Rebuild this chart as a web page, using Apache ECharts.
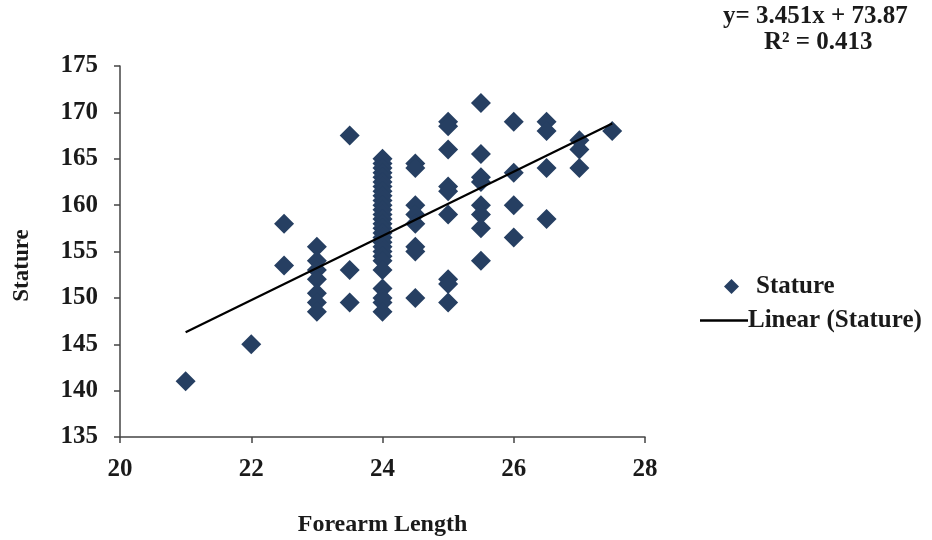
<!DOCTYPE html>
<html>
<head>
<meta charset="utf-8">
<title>Stature vs Forearm Length</title>
<script src="https://cdn.jsdelivr.net/npm/echarts@6/dist/echarts.min.js"></script>
<style>
  html, body { margin: 0; padding: 0; background: #fff; }
  #chart { width: 932px; height: 540px; }
</style>
</head>
<body>
<div id="chart"></div>
<script>
  // forearm length (cm) columns and the stature values measured in each
  var FOREARM = [21, 22, 22.5, 23, 23.5, 24, 24.5, 25, 25.5, 26, 26.5, 27, 27.5];
  var STATURE = [
    [141],
    [145],
    [158, 153.5],
    [155.5, 154, 153, 152, 150.5, 149.5, 148.5],
    [167.5, 153, 149.5],
    [165, 164.5, 164, 163.5, 163, 162.5, 162, 161.5, 161, 160.5, 160, 159.5, 159,
     158.5, 158, 157.5, 157, 156.5, 156, 155.5, 155, 154.5, 154, 153, 151, 150, 149.5, 148.5],
    [164.5, 164, 160, 159, 158, 155.5, 155, 150],
    [169, 168.5, 166, 162, 161.5, 159, 152, 151.5, 149.5],
    [171, 165.5, 163, 162.5, 160, 159, 157.5, 154],
    [169, 163.5, 160, 156.5],
    [169, 168, 164, 158.5],
    [167, 166, 164],
    [168]
  ];
  // linear trend endpoints (y = 3.451x + 73.87)
  var TREND_X = [21, 27.5];
  var TREND_Y = [146.3, 168.8];
  var X_TICKS = [20, 22, 24, 26, 28];
  var Y_TICKS = [135, 140, 145, 150, 155, 160, 165, 170, 175];

  var FONT = '"Liberation Serif", "DejaVu Serif", serif';
  var INK = '#1a1a1a';
  var MARK = '#263f62';

  var points = [];
  FOREARM.forEach(function (x, i) {
    STATURE[i].forEach(function (y) { points.push([x, y]); });
  });
  var trend = TREND_X.map(function (x, i) { return [x, TREND_Y[i]]; });

  var axisLine = { lineStyle: { color: '#444', width: 1.5 } };
  var axisTick = { show: true, length: 6, lineStyle: { color: '#444', width: 1.5 } };
  function txt(size) {
    return { color: INK, fontFamily: FONT, fontWeight: 'bold', fontSize: size };
  }

  var chart = echarts.init(document.getElementById('chart'), null, { renderer: 'canvas' });
  chart.setOption({
    animation: false,
    backgroundColor: '#fff',
    grid: {
      left: 120, right: 287, top: 66, bottom: 103,
      containLabel: false, outerBoundsMode: 'none'
    },
    xAxis: {
      type: 'value',
      min: X_TICKS[0], max: X_TICKS[X_TICKS.length - 1], interval: 2,
      name: 'Forearm Length',
      nameLocation: 'middle',
      nameGap: 76,
      nameTextStyle: txt(24),
      axisLine: axisLine,
      axisTick: axisTick,
      axisLabel: Object.assign({ margin: 20 }, txt(25)),
      splitLine: { show: false }
    },
    yAxis: {
      type: 'value',
      min: Y_TICKS[0], max: Y_TICKS[Y_TICKS.length - 1], interval: 5,
      name: 'Stature',
      nameLocation: 'middle',
      nameGap: 86,
      nameTextStyle: Object.assign({ padding: [0, 28, 0, 0] }, txt(23)),
      axisLine: axisLine,
      axisTick: axisTick,
      axisLabel: Object.assign({ margin: 22 }, txt(25)),
      splitLine: { show: false }
    },
    legend: [
      {
        orient: 'vertical', left: 719, top: 269,
        itemWidth: 15, itemHeight: 15, itemGap: 10,
        textStyle: Object.assign({ padding: [0, 0, 0, 12] }, txt(25)),
        data: [{ name: 'Stature', icon: 'diamond' }]
      },
      {
        orient: 'vertical', left: 695, top: 303,
        itemWidth: 48, itemHeight: 2.5, itemGap: 10,
        textStyle: Object.assign({ padding: [0, 0, 0, -5] }, txt(25)),
        data: [{ name: 'Linear (Stature)', icon: 'rect' }]
      }
    ],
    graphic: [
      {
        type: 'text', left: 723, top: 4,
        style: { text: 'y= 3.451x + 73.87', font: 'bold 25px ' + FONT, fill: INK }
      },
      {
        type: 'text', left: 764, top: 30,
        style: { text: 'R² = 0.413', font: 'bold 25px ' + FONT, fill: INK }
      }
    ],
    series: [
      {
        name: 'Stature',
        type: 'scatter',
        symbol: 'diamond',
        symbolSize: 20,
        itemStyle: { color: MARK, opacity: 1 },
        data: points,
        z: 2
      },
      {
        name: 'Linear (Stature)',
        type: 'line',
        showSymbol: false,
        symbol: 'none',
        lineStyle: { color: '#000', width: 2.2 },
        itemStyle: { color: '#000' },
        data: trend,
        z: 3
      }
    ]
  });
</script>
</body>
</html>
